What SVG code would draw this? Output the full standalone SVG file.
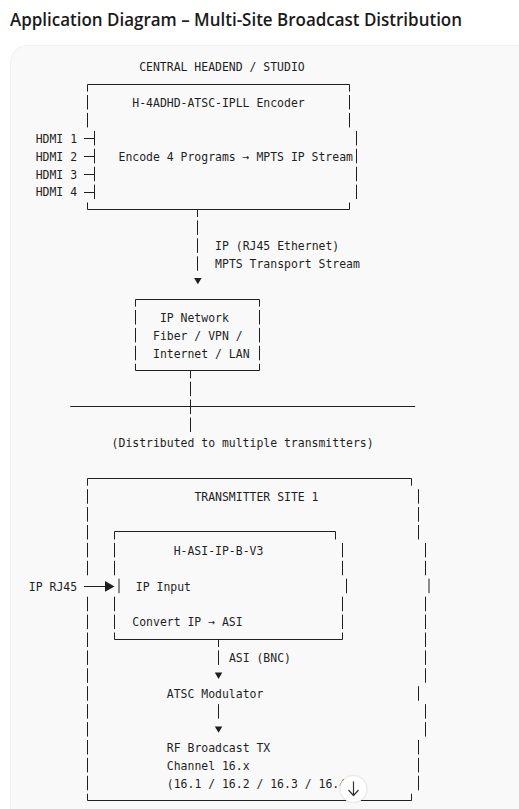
<svg xmlns="http://www.w3.org/2000/svg" width="519" height="809" viewBox="0 0 519 809">
<style>
.title{font-family:"Open Sans","Noto Sans","Liberation Sans",sans-serif;font-weight:600;font-size:18px;fill:#1a1a1a}
.t{font-family:"DejaVu Sans Mono","Liberation Mono",monospace;font-size:11.46px;fill:#1f1f1f}
.ln{fill:none;stroke:#1f1f1f;stroke-width:1}
.tri{fill:#1f1f1f}
</style>
<rect width="519" height="809" fill="#ffffff"/>
<text class="title" x="10" y="26" textLength="452" lengthAdjust="spacingAndGlyphs">Application Diagram – Multi-Site Broadcast Distribution</text>
<rect x="10.5" y="45.5" width="540" height="800" rx="16" fill="#f9f9f9" stroke="#f1f1f1"/>

<g id="encoder">
  <text class="t" x="139.2" y="71">CENTRAL HEADEND / STUDIO</text>
  <path class="ln" d="M87.5 84.5H349.5M87.5 209.5H349.5
    M87.5 84.5V91.6M87.5 95V109.5M87.5 112.9V127.4M87.5 202.5V209.5
    M349.5 84.5V91.6M349.5 95V109.5M349.5 112.9V127.4M349.5 202.5V209.5
    M356.5 130.9V145.4M356.5 148.8V163.3M356.5 166.7V181.2M356.5 184.6V199.1
    M94.5 130.9V145.4M94.5 148.8V163.3M94.5 166.7V181.2M94.5 184.6V199.1
    M84 138.5H94.5M84 156.5H94.5M84 174.5H94.5M84 192.5H94.5"/>
  <text class="t" x="132.3" y="106.8">H-4ADHD-ATSC-IPLL Encoder</text>
  <text class="t" x="35.7" y="142.7">HDMI 1</text>
  <text class="t" x="35.7" y="160.6">HDMI 2</text>
  <text class="t" x="35.7" y="178.5">HDMI 3</text>
  <text class="t" x="35.7" y="196.4">HDMI 4</text>
  <text class="t" x="118.5" y="160.6">Encode 4 Programs → MPTS IP Stream</text>
</g>

<g id="ip-network">
  <path class="ln" d="M135.5 299.5H259.5M135.5 370.5H259.5
    M135.5 299.5V306.6M135.5 310V324.5M135.5 327.9V342.4M135.5 345.8V360.3M135.5 363.8V370.5
    M259.5 299.5V306.6M259.5 310V324.5M259.5 327.9V342.4M259.5 345.8V360.3M259.5 363.8V370.5"/>
  <text class="t" x="159.9" y="321.8">IP Network</text>
  <text class="t" x="153" y="339.7">Fiber / VPN /</text>
  <text class="t" x="153" y="357.6">Internet / LAN</text>
</g>

<g id="transmitter-site-1">
  <path class="ln" d="M87.5 478.5H411.5M87.5 800.5H411.5
    M87.5 478.5V485.7M87.5 489.2V503.7M87.5 507.1V521.6M87.5 525V539.5M87.5 542.9V557.4M87.5 560.8V575.3
    M87.5 596.7V611.2M87.5 614.6V629.1M87.5 632.5V647M87.5 650.4V664.9M87.5 668.3V682.8M87.5 686.2V700.7
    M87.5 704.1V718.6M87.5 722.1V736.6M87.5 740V754.5M87.5 757.9V772.4M87.5 775.8V790.3M87.5 793.7V800.5
    M411.5 478.5V485.7
    M418.5 489.2V503.7M418.5 507.1V521.6M418.5 525V539.5
    M425.5 542.9V557.4M425.5 560.8V575.3M429 578.7V593.2
    M425.5 596.7V611.2M425.5 614.6V629.1M425.5 632.5V647M425.5 650.4V664.9M425.5 668.3V682.8
    M418.5 686.2V700.7M425.5 704.1V718.6M425.5 722.1V736.6
    M418.5 740V754.5M418.5 757.9V772.4M418.5 775.8V790.3M411.5 793.7V800.5"/>
  <text class="t" x="194.4" y="501">TRANSMITTER SITE 1</text>
  <text class="t" x="166.8" y="698">ATSC Modulator</text>
  <text class="t" x="166.8" y="751.8">RF Broadcast TX</text>
  <text class="t" x="166.8" y="769.7">Channel 16.x</text>
  <text class="t" x="166.8" y="787.6">(16.1 / 16.2 / 16.3 / 16.4)</text>
</g>

<g id="h-asi-ip-b-v3">
  <path class="ln" d="M114.5 531.5H335.5M114.5 639.5H342.5
    M114.5 531.5V539.5M114.5 542.9V557.4M114.5 560.8V575.3M119 578.7V593.2M114.5 596.7V611.2M114.5 614.6V629.1M114.5 632.5V639.5
    M335.5 531.5V539.5M342.5 542.9V557.4M342.5 560.8V575.3M346.5 578.7V593.2M342.5 596.7V611.2M342.5 614.6V629.1M342.5 632.5V639.5"/>
  <text class="t" x="173.7" y="554.7">H-ASI-IP-B-V3</text>
  <text class="t" x="135.8" y="590.5">IP Input</text>
  <text class="t" x="132.3" y="626.4">Convert IP → ASI</text>
</g>

<g id="connectors">
  <path class="ln" d="M197.5 209.5V217M197.5 220.4V234.9M197.5 238.4V252.9M197.5 256.3V270.8
    M190.5 370.5V378.3M190.5 381.7V396.2M190.5 399.6V414.1M190.5 417.5V432
    M70.2 406.5H415.2
    M218.5 639.5V647M218.5 650.4V664.9M218.5 704.1V718.6
    M84 586.5H106"/>
  <polygon class="tri" points="194.1,278 201.6,278 197.85,284.3"/>
  <polygon class="tri" points="214.8,672.6 222.3,672.6 218.55,678.9"/>
  <polygon class="tri" points="214.8,726.4 222.3,726.4 218.55,732.7"/>
  <polygon class="tri" points="105,581 114.5,586.4 105,591.8"/>
  <text class="t" x="215.1" y="250.2">IP (RJ45 Ethernet)</text>
  <text class="t" x="215.1" y="268.1">MPTS Transport Stream</text>
  <text class="t" x="111.6" y="447.2">(Distributed to multiple transmitters)</text>
  <text class="t" x="28.8" y="590.5">IP RJ45</text>
  <text class="t" x="228.9" y="662.2">ASI (BNC)</text>
</g>

<g id="scroll-button">
  <circle cx="353.5" cy="789" r="14.5" fill="#000" opacity="0.04"/>
  <circle cx="353.5" cy="789" r="13.5" fill="#ffffff" stroke="#e8e8e8"/>
  <path d="M353.5 781.5V795.5M348.5 790L353.5 795.5L358.5 790" fill="none" stroke="#333" stroke-width="1.2"/>
</g>
</svg>
